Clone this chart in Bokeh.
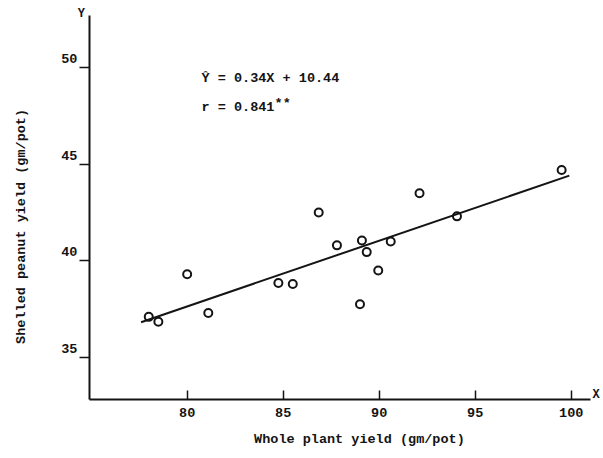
import math

from bokeh.plotting import figure
from bokeh.models import Label, FixedTicker, Range1d
from bokeh.embed import file_html
from bokeh.resources import INLINE

# Whole plant yield vs shelled peanut yield (gm/pot)
whole_plant = [78.0, 78.5, 80.0, 81.1, 84.75, 85.5, 86.85, 87.8,
               89.1, 89.35, 89.0, 89.95, 90.6, 92.1, 94.05, 99.5]
shelled = [37.1, 36.85, 39.3, 37.3, 38.85, 38.8, 42.5, 40.8,
           41.05, 40.45, 37.75, 39.5, 41.0, 43.5, 42.3, 44.7]

# Fitted regression  Y = 0.34 X + 10.44
slope = 0.34
intercept = 10.44
fit_x = [77.6, 99.9]
fit_y = [slope * v + intercept for v in fit_x]

x_ticks = [80, 85, 90, 95, 100]
y_ticks = [35, 40, 45, 50]

# extent of the drawn axes, and of the whole canvas around them
X0, X1 = 74.91, 101.0
Y0, Y1 = 32.83, 52.69
VIEW_X = (70.28, 101.68)
VIEW_Y = (29.77, 53.47)

FONT = "Liberation Mono"
INK = "#141414"
SIZE = "13.5px"

p = figure(width=603, height=458, output_backend="svg", toolbar_location=None,
           x_range=Range1d(*VIEW_X), y_range=Range1d(*VIEW_Y), min_border=0)
p.outline_line_color = None
p.grid.visible = False
p.background_fill_color = "white"
p.border_fill_color = "white"

# x axis: ticks pointing inwards, placed at the bottom of the data area
xa = p.xaxis[0]
xa.fixed_location = Y0
xa.bounds = (X0, X1)
xa.ticker = FixedTicker(ticks=x_ticks)
xa.minor_tick_line_color = None
xa.major_tick_in = 9
xa.major_tick_out = 0
xa.major_tick_line_width = 1.5
xa.major_tick_line_color = INK
xa.axis_line_width = 2
xa.axis_line_color = INK
xa.major_label_standoff = 9
xa.major_label_text_font = FONT
xa.major_label_text_font_style = "bold"
xa.major_label_text_font_size = SIZE
xa.major_label_text_color = INK

# y axis: ticks pointing outwards; its numbers are set above each tick below
ya = p.yaxis[0]
ya.fixed_location = X0
ya.bounds = (Y0, Y1)
ya.ticker = FixedTicker(ticks=y_ticks)
ya.minor_tick_line_color = None
ya.major_tick_in = 0
ya.major_tick_out = 10
ya.major_tick_line_width = 1.5
ya.major_tick_line_color = INK
ya.axis_line_width = 2
ya.axis_line_color = INK
ya.major_label_text_color = None

text_style = dict(text_font=FONT, text_font_style="bold", text_font_size=SIZE,
                  text_color=INK)

for t in y_ticks:
    p.add_layout(Label(x=X0, y=t, x_offset=-12, y_offset=9, text=str(t),
                       text_align="right", text_baseline="alphabetic", **text_style))

# axis titles
p.add_layout(Label(x=88.97, y=Y0, y_offset=-33, text="Whole plant yield (gm/pot)",
                   text_align="center", text_baseline="top", **text_style))
p.add_layout(Label(x=X0, y=41.78, x_offset=-68, angle=math.pi / 2,
                   text="Shelled peanut yield (gm/pot)",
                   text_align="center", text_baseline="middle", **text_style))

# regression line and observations
p.line(fit_x, fit_y, line_color=INK, line_width=2)
p.scatter(whole_plant, shelled, marker="circle", size=8, fill_color=None,
          line_color=INK, line_width=2)

# equation and correlation coefficient
p.add_layout(Label(x=80.75, y=49.45, text="Ŷ = 0.34X + 10.44",
                   text_align="left", text_baseline="alphabetic", **text_style))
p.add_layout(Label(x=80.75, y=47.95, text="r = 0.841",
                   text_align="left", text_baseline="alphabetic", **text_style))
p.add_layout(Label(x=80.75, y=47.95, x_offset=73, y_offset=4, text="**",
                   text_font=FONT, text_font_style="bold", text_font_size=SIZE,
                   text_color=INK, text_baseline="alphabetic", text_align="left"))

# axis end letters
p.add_layout(Label(x=X0, y=Y1, x_offset=-8, y_offset=2, text="Y",
                   text_font=FONT, text_font_style="bold", text_font_size="12px",
                   text_color=INK, text_baseline="middle", text_align="center"))
p.add_layout(Label(x=X1, y=Y0, x_offset=2, y_offset=4, text="X",
                   text_font=FONT, text_font_style="bold", text_font_size="12px",
                   text_color=INK, text_baseline="middle", text_align="left"))

open("out.html", "w").write(file_html(p, INLINE))
